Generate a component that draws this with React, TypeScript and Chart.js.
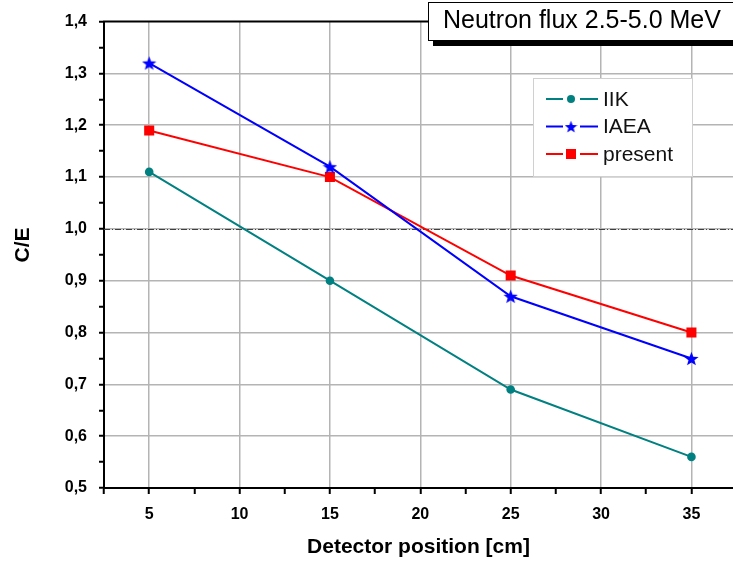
import React, { useEffect, useRef } from "react";
import { Chart, registerables } from "chart.js";

Chart.register(...registerables);

// ---- data ----
const positions = [5, 15, 25, 35];
const iikValues = [1.11, 0.9, 0.69, 0.56];
const iaeaValues = [1.32, 1.12, 0.87, 0.75];
const presentValues = [1.19, 1.1, 0.91, 0.8];
const seriesNames = ["IIK", "IAEA", "present"];
const xTickLabels = [5, 10, 15, 20, 25, 30, 35];
const yTickLabels = [0.5, 0.6, 0.7, 0.8, 0.9, 1.0, 1.1, 1.2, 1.3, 1.4];
const referenceLevel = [1.0];
const titleText = "Neutron flux 2.5-5.0 MeV";
const xAxisTitle = "Detector position [cm]";
const yAxisTitle = "C/E";

const TEAL = "#008080";
const BLUE = "#0000ff";
const RED = "#ff0000";
const FONT = "Arial, 'Liberation Sans', sans-serif";

function makeStar(color: string, size: number): HTMLCanvasElement {
  const c = document.createElement("canvas");
  c.width = size;
  c.height = size;
  const ctx = c.getContext("2d")!;
  const cx = size / 2;
  const cy = size / 2 + 0.8;
  const outer = size / 2;
  const inner = outer * 0.42;
  ctx.beginPath();
  for (let i = 0; i < 10; i++) {
    const r = i % 2 === 0 ? outer : inner;
    const a = -Math.PI / 2 + (i * Math.PI) / 5;
    const px = cx + r * Math.cos(a);
    const py = cy + r * Math.sin(a);
    if (i === 0) ctx.moveTo(px, py);
    else ctx.lineTo(px, py);
  }
  ctx.closePath();
  ctx.fillStyle = color;
  ctx.fill();
  return c;
}

function toPoints(values: number[]) {
  return positions.map((x, i) => ({ x, y: values[i] }));
}

export default function App() {
  const canvasRef = useRef<HTMLCanvasElement | null>(null);

  useEffect(() => {
    document.body.style.margin = "0";
    const canvas = canvasRef.current!;
    const star = makeStar(BLUE, 15);
    const legendStar = makeStar(BLUE, 13);

    const refLinePlugin = {
      id: "refLine",
      beforeDatasetsDraw(chart: any) {
        const { ctx, chartArea, scales } = chart;
        ctx.save();
        ctx.strokeStyle = "#404040";
        ctx.lineWidth = 1;
        ctx.setLineDash([6, 2, 1, 2]);
        referenceLevel.forEach((v) => {
          const y = Math.round(scales.y.getPixelForValue(v)) + 0.5;
          ctx.beginPath();
          ctx.moveTo(chartArea.left, y);
          ctx.lineTo(chartArea.right, y);
          ctx.stroke();
        });
        ctx.restore();
      },
    };

    const decorPlugin = {
      id: "decor",
      afterDraw(chart: any) {
        const { ctx, chartArea } = chart;
        ctx.save();
        // top axis line
        ctx.strokeStyle = "#000";
        ctx.lineWidth = 2;
        ctx.beginPath();
        ctx.moveTo(chartArea.left - 1, chartArea.top);
        ctx.lineTo(chartArea.right, chartArea.top);
        ctx.stroke();

        // y axis title
        ctx.save();
        ctx.translate(23, 245);
        ctx.rotate(-Math.PI / 2);
        ctx.fillStyle = "#000";
        ctx.font = `bold 21px ${FONT}`;
        ctx.textAlign = "center";
        ctx.textBaseline = "middle";
        ctx.fillText(yAxisTitle, 0, 0);
        ctx.restore();

        // title box with shadow
        ctx.fillStyle = "#000";
        ctx.fillRect(433, 40, 320, 6);
        ctx.fillStyle = "#fff";
        ctx.fillRect(428.5, 2.5, 320, 38);
        ctx.strokeStyle = "#000";
        ctx.lineWidth = 1;
        ctx.strokeRect(428.5, 2.5, 320, 38);
        ctx.fillStyle = "#000";
        ctx.font = `25px ${FONT}`;
        ctx.textBaseline = "middle";
        ctx.textAlign = "left";
        ctx.fillText(titleText, 443, 21);

        // legend box
        const lx = 533.5;
        const ly = 78.5;
        ctx.fillStyle = "#fff";
        ctx.fillRect(lx, ly, 159, 98);
        ctx.strokeStyle = "#d0d0d0";
        ctx.lineWidth = 1;
        ctx.strokeRect(lx, ly, 159, 98);
        ctx.font = `21px ${FONT}`;
        chart.data.datasets.forEach((ds: any, i: number) => {
          const y = 99 + i * 27.5;
          ctx.strokeStyle = ds.borderColor;
          ctx.lineWidth = 2;
          ctx.beginPath();
          ctx.moveTo(546, y);
          ctx.lineTo(563, y);
          ctx.moveTo(580, y);
          ctx.lineTo(598, y);
          ctx.stroke();
          ctx.fillStyle = ds.borderColor;
          if (ds.pointStyle === "circle") {
            ctx.beginPath();
            ctx.arc(571, y, 4, 0, Math.PI * 2);
            ctx.fill();
          } else if (ds.pointStyle === "rect") {
            ctx.fillRect(566, y - 5, 10, 10);
          } else {
            ctx.drawImage(legendStar, 571 - 6.5, y - 6.5);
          }
          ctx.fillStyle = "#111";
          ctx.fillText(ds.label, 603, y + 1);
        });
        ctx.restore();
      },
    };

    const majorX = (v: number) => xTickLabels.some((t) => Math.abs(t - v) < 1e-6);
    const majorY = (v: number) => yTickLabels.some((t) => Math.abs(t - v) < 1e-6);

    const chart = new Chart(canvas, {
      type: "line",
      data: {
        datasets: [
          {
            label: seriesNames[0],
            data: toPoints(iikValues),
            borderColor: TEAL,
            backgroundColor: TEAL,
            borderWidth: 2,
            pointStyle: "circle",
            pointRadius: 4.3,
            pointHoverRadius: 4.3,
            pointBorderWidth: 0,
          },
          {
            label: seriesNames[1],
            data: toPoints(iaeaValues),
            borderColor: BLUE,
            backgroundColor: BLUE,
            borderWidth: 2,
            pointStyle: star as any,
            pointRadius: 7,
            pointHoverRadius: 7,
            pointBorderWidth: 0,
          },
          {
            label: seriesNames[2],
            data: toPoints(presentValues),
            borderColor: RED,
            backgroundColor: RED,
            borderWidth: 2,
            pointStyle: "rect",
            pointRadius: 7.1,
            pointHoverRadius: 7.1,
            pointBorderWidth: 0,
          },
        ],
      },
      options: {
        responsive: false,
        animation: false,
        events: [],
        layout: { padding: { top: 21, left: 0, right: 0, bottom: 0 }, autoPadding: false } as any,
        plugins: {
          legend: { display: false },
          title: { display: false },
          tooltip: { enabled: false },
        },
        scales: {
          x: {
            type: "linear",
            min: 2.5,
            max: 37.3,
            afterBuildTicks: (scale: any) => {
              const ticks = [];
              for (let i = 1; i <= 15; i++) {
                const v = i * 2.5;
                if (v <= 37.3) ticks.push({ value: v });
              }
              scale.ticks = ticks;
            },
            afterFit: (scale: any) => {
              scale.height = 73;
            },
            ticks: {
              autoSkip: false,
              maxRotation: 0,
              minRotation: 0,
              padding: 11,
              color: "#000",
              font: { family: FONT, size: 16, weight: "bold" },
              callback: (v: any) => (majorX(Number(v)) ? String(v) : ""),
            },
            grid: {
              color: (c: any) => (c.tick && majorX(c.tick.value) ? "#b4b4b4" : "rgba(0,0,0,0)"),
              lineWidth: 1.5,
              drawTicks: true,
              tickLength: 6,
              tickColor: "#000",
              tickWidth: 2,
            },
            border: { color: "#000", width: 2 },
            title: {
              display: true,
              text: xAxisTitle,
              color: "#000",
              font: { family: FONT, size: 21, weight: "bold" },
              padding: { top: 0, bottom: 1 },
            },
          },
          y: {
            type: "linear",
            min: 0.5,
            max: 1.4,
            afterBuildTicks: (scale: any) => {
              const ticks = [];
              for (let i = 50; i <= 140; i += 5) ticks.push({ value: i / 100 });
              scale.ticks = ticks;
            },
            afterFit: (scale: any) => {
              scale.width = 104;
            },
            ticks: {
              autoSkip: false,
              padding: 12,
              color: "#000",
              font: { family: FONT, size: 16, weight: "bold" },
              callback: (v: any) =>
                majorY(Number(v)) ? Number(v).toFixed(1).replace(".", ",") : "",
            },
            grid: {
              color: (c: any) =>
                c.tick && majorY(c.tick.value) && c.tick.value > 0.5 && c.tick.value < 1.4
                  ? "#b4b4b4"
                  : "rgba(0,0,0,0)",
              lineWidth: 1.5,
              drawTicks: true,
              tickLength: 5,
              tickColor: "#000",
              tickWidth: 2,
            },
            border: { color: "#000", width: 2 },
            title: { display: false },
          },
        },
      },
      plugins: [refLinePlugin, decorPlugin],
    });

    return () => chart.destroy();
  }, []);

  return (
    <div style={{ width: 733, height: 561, overflow: "hidden", background: "#fff" }}>
      <canvas ref={canvasRef} width={733} height={561} style={{ display: "block" }} />
    </div>
  );
}
